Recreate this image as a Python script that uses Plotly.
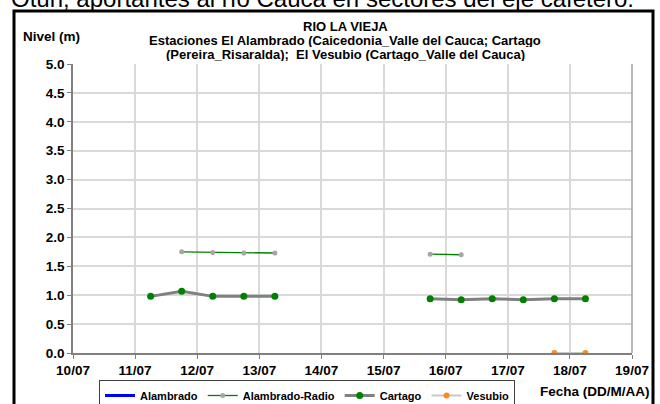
import plotly.graph_objects as go

# fechas de medicion (06:00 y 18:00); None = sin dato
fechas = [
    "2011-07-11 06:00", "2011-07-11 18:00", "2011-07-12 06:00", "2011-07-12 18:00",
    "2011-07-13 06:00", "2011-07-14 12:00", "2011-07-15 18:00", "2011-07-16 06:00",
    "2011-07-16 18:00", "2011-07-17 06:00", "2011-07-17 18:00", "2011-07-18 06:00",
]
alambrado = [None] * 12
alambrado_radio = [None, 1.75, 1.74, 1.73, 1.73, None, 1.71, 1.70, None, None, None, None]
cartago = [0.98, 1.07, 0.98, 0.98, 0.98, None, 0.94, 0.92, 0.94, 0.92, 0.94, 0.94]
vesubio = [None, None, None, None, None, None, None, None, None, None, 0.0, 0.0]

x_ticks = ["2011-07-%02d" % d for d in range(10, 20)]
x_labels = ["%02d/07" % d for d in range(10, 20)]

W, H = 660, 404
L, R, T, B = 73, 28, 64, 51
pw, ph = W - L - R, H - T - B


def px(x):
    return (x - L) / pw


def py(y):
    return (H - B - y) / ph


FONT = "Liberation Sans, Arial, sans-serif"

fig = go.Figure()
fig.add_trace(go.Scatter(
    x=fechas, y=alambrado, name="Alambrado", mode="lines",
    line=dict(color="#0000ff", width=3),
))
fig.add_trace(go.Scatter(
    x=fechas, y=alambrado_radio, name="Alambrado-Radio", mode="lines+markers",
    line=dict(color="#008000", width=1.3),
    marker=dict(color="#a6a6a6", size=5),
))
fig.add_trace(go.Scatter(
    x=fechas, y=cartago, name="Cartago", mode="lines+markers",
    line=dict(color="#808080", width=3),
    marker=dict(color="#008000", size=7),
))
fig.add_trace(go.Scatter(
    x=fechas, y=vesubio, name="Vesubio", mode="lines+markers",
    line=dict(color="#c8c8c8", width=2),
    marker=dict(color="#ff8c1a", size=6),
))

axis_font = dict(family=FONT, size=13.5, color="black", weight="bold")


def title_line(text, y):
    return dict(text="<b>%s</b>" % text, xref="paper", yref="paper",
                x=px(345), y=py(y), xanchor="center", yanchor="middle",
                height=14, showarrow=False, font=dict(family=FONT, size=13))


fig.update_layout(
    width=W, height=H,
    margin=dict(l=L, r=R, t=T, b=B, autoexpand=False),
    paper_bgcolor="white", plot_bgcolor="white",
    font=dict(family=FONT, size=12, color="black"),
    showlegend=True,
    legend=dict(
        orientation="h", x=px(99), y=py(380), xanchor="left", yanchor="top",
        bordercolor="#404040", borderwidth=1, bgcolor="white",
        font=dict(family=FONT, size=11, color="black", weight="bold"),
        tracegroupgap=0, itemwidth=30,
    ),
    xaxis=dict(
        range=["2011-07-10", "2011-07-19"],
        tickvals=x_ticks, ticktext=x_labels, tickfont=axis_font,
        showgrid=True, gridcolor="#d9d9d9", gridwidth=1.5,
        showline=True, linecolor="#808080", linewidth=1.5,
        ticks="outside", ticklen=4, tickcolor="#808080",
        zeroline=False, mirror=False,
    ),
    yaxis=dict(
        range=[0, 5], dtick=0.5, tickformat=".1f", tickfont=axis_font,
        showgrid=True, gridcolor="#d9d9d9", gridwidth=1.5,
        showline=True, linecolor="#808080", linewidth=1.5,
        ticks="outside", ticklen=4, tickcolor="#808080",
        zeroline=False,
    ),
    shapes=[
        dict(type="rect", xref="paper", yref="paper",
             x0=px(14), x1=px(653), y0=py(420), y1=py(11),
             line=dict(color="black", width=3), fillcolor="rgba(0,0,0,0)", layer="above"),
        dict(type="line", xref="paper", yref="paper",
             x0=1, x1=1, y0=0, y1=1, line=dict(color="#a0a0a0", width=1.5)),
    ],
    annotations=[
        dict(text="Otún, aportantes al río Cauca en sectores del eje cafetero.",
             xref="paper", yref="paper", x=px(9), y=py(14),
             xanchor="left", yanchor="bottom", showarrow=False,
             font=dict(family=FONT, size=24, color="black")),
        title_line("RIO LA VIEJA", 26),
        title_line("Estaciones El Alambrado (Caicedonia_Valle del Cauca; Cartago", 40),
        title_line("(Pereira_Risaralda);  El Vesubio (Cartago_Valle del Cauca)", 54),
        dict(text="<b>Nivel (m)</b>", xref="paper", yref="paper",
             x=px(21), y=py(37), xanchor="left", yanchor="middle", showarrow=False,
             font=dict(family=FONT, size=13.5)),
        dict(text="<b>Fecha (DD/M/AA)</b>", xref="paper", yref="paper",
             x=px(652), y=py(391), xanchor="right", yanchor="middle", showarrow=False,
             font=dict(family=FONT, size=13.5)),
    ],
)

fig.write_html(
    "out.html",
    config={"displayModeBar": False},
    post_script="document.body.style.margin='0';document.body.style.overflow='hidden';",
)
